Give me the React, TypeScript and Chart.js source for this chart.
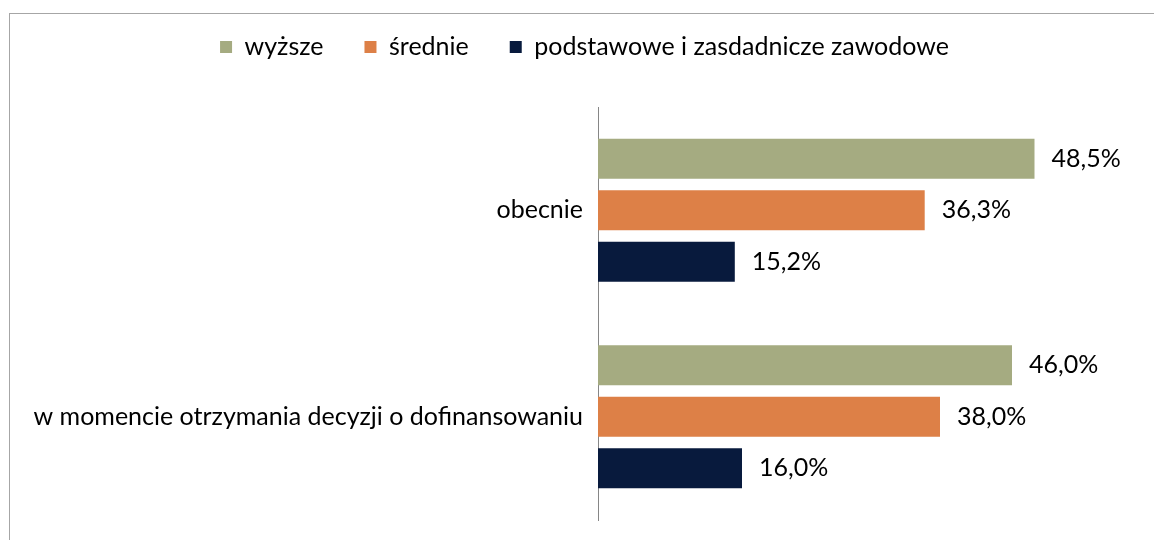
import React, { useEffect, useRef } from "react";
import { Chart, registerables } from "chart.js";

Chart.register(...registerables);

const categories = ["obecnie", "w momencie otrzymania decyzji o dofinansowaniu"];
const seriesNames = ["wyższe", "średnie", "podstawowe i zasdadnicze zawodowe"];
const wyzsze = [48.5, 46.0];
const srednie = [36.3, 38.0];
const podstawowe = [15.2, 16.0];
const seriesColors = ["#A5AB81", "#DD8047", "#081A3D"];

const FONT = "Lato";
const FONT_SIZE = 25;
const OFFSET = 40;

const fmt = (v: number) => v.toFixed(1).replace(".", ",") + "%";

const framePlugin = {
  id: "frame",
  beforeDraw(chart: any) {
    const ctx = chart.ctx;
    ctx.save();
    ctx.strokeStyle = "#A6A6A6";
    ctx.lineWidth = 1;
    ctx.strokeRect(9.5, 13.5 + OFFSET, 1300, 700);
    ctx.restore();
  },
};

const labelPlugin = {
  id: "valueLabels",
  afterDatasetsDraw(chart: any) {
    const ctx = chart.ctx;
    ctx.save();
    ctx.font = `${FONT_SIZE}px ${FONT}`;
    ctx.fillStyle = "#000000";
    ctx.textAlign = "left";
    ctx.textBaseline = "middle";
    chart.data.datasets.forEach((ds: any, i: number) => {
      const meta = chart.getDatasetMeta(i);
      meta.data.forEach((el: any, j: number) => {
        ctx.fillText(fmt(ds.data[j]), el.x + 17, el.y);
      });
    });
    ctx.restore();
  },
};

export default function App() {
  const ref = useRef<HTMLCanvasElement | null>(null);
  useEffect(() => {
    if (!ref.current) return;
    Chart.defaults.font.family = FONT;
    const chart = new Chart(ref.current, {
      type: "bar",
      data: {
        labels: categories,
        datasets: [wyzsze, srednie, podstawowe].map((d, i) => ({
          label: seriesNames[i],
          data: d,
          backgroundColor: seriesColors[i],
          borderWidth: 0,
          categoryPercentage: 0.748,
          barPercentage: 0.777,
        })),
      },
      options: {
        indexAxis: "y",
        animation: false,
        responsive: false,
        layout: { padding: { top: 33.5, left: 31, right: 16, bottom: 20 } },
        plugins: {
          tooltip: { enabled: false },
          legend: {
            position: "top",
            labels: {
              boxWidth: 12,
              boxHeight: 12,
              padding: 41,
              color: "#000000",
              font: { family: FONT, size: FONT_SIZE },
            },
          },
        },
        scales: {
          x: {
            position: "top",
            min: 0,
            max: 60,
            display: true,
            ticks: { display: false },
            grid: { display: false, drawTicks: false },
            border: { display: false },
            afterFit: (s: any) => {
              s.height = 37.5;
            },
          },
          y: {
            position: "left",
            grid: { display: false, drawTicks: false },
            border: { display: true, color: "#868686", width: 1 },
            ticks: {
              padding: 15,
              color: "#000000",
              font: { family: FONT, size: FONT_SIZE },
            },
            afterFit: (s: any) => {
              s.width = 567;
              s.paddingTop = 0;
              s.paddingBottom = 0;
            },
          },
        },
      },
      plugins: [framePlugin, labelPlugin],
    } as any);
    return () => chart.destroy();
  }, []);
  return (
    <div style={{ position: "fixed", left: 0, top: -OFFSET, width: 1154, height: 580 }}>
      <canvas ref={ref} width={1154} height={580} style={{ display: "block" }} />
    </div>
  );
}
